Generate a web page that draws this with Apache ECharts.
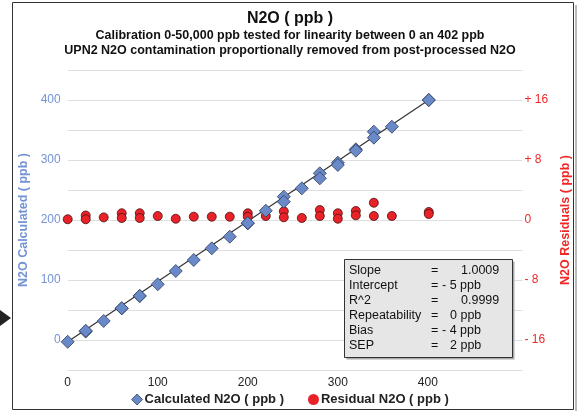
<!DOCTYPE html>
<html>
<head>
<meta charset="utf-8">
<script src="https://cdn.jsdelivr.net/npm/echarts@6/dist/echarts.min.js"></script>
<style>html,body{margin:0;padding:0;background:#fff;}#c{width:580px;height:413px;}</style>
</head>
<body>
<div id="c"></div>
<script>
// Reference concentration (ppb)
const refX = [0, 20, 20, 40, 60, 60, 80, 80, 100, 120, 140, 160, 180, 200, 200, 220, 240, 240, 260, 280, 280, 300, 300, 320, 320, 340, 340, 360, 401, 401];
// Calculated N2O (ppb)
const calcY = [-3, 14, 15.5, 31.7, 52.8, 53, 73.3, 73.5, 92.8, 115, 133.3, 152.8, 172.2, 194.4, 195, 215.5, 238.9, 230.5, 252.8, 277.8, 269.5, 295.5, 291.7, 317.8, 315.5, 347.2, 337.2, 355.5, 400, 400];
// Residual N2O (ppb)
const residY = [0.1, 0.6, 0.1, 0.35, 0.9, 0.27, 0.9, 0.27, 0.53, 0.17, 0.44, 0.44, 0.44, 0.9, 0.44, 0.53, 1.16, 0.36, 0.27, 1.33, 0.53, 0.9, 0.17, 1.2, 0.62, 2.3, 0.53, 0.53, 1.07, 0.8];
// Fit line end points
const fitX = [0, 401];
const fitY = [-3, 400];
// Stats box rows
const statLabels = ['Slope', 'Intercept', 'R^2', 'Repeatability', 'Bias', 'SEP'];
const statValues = ['1.0009', '- 5 ppb', '0.9999', '0 ppb', '- 4 ppb', '2 ppb'];

const FONT = 'Liberation Sans, Arial, sans-serif';
const BLUE = '#7393d3';
const RED = '#f02828';

const chart = echarts.init(document.getElementById('c'), null, {renderer: 'canvas'});

const valueLeft = [461, 442, 461, 450, 442, 450];
const statTexts = [];
statLabels.forEach((s, i) => {
  const top = 264.5 + i * 15;
  statTexts.push({type: 'text', left: 349, top: top, style: {text: s, font: '12.5px ' + FONT, fill: '#111'}, z: 102});
  statTexts.push({type: 'text', left: 431, top: top, style: {text: '=', font: '12.5px ' + FONT, fill: '#111'}, z: 102});
  statTexts.push({type: 'text', left: valueLeft[i], top: top, style: {text: statValues[i], font: '12.5px ' + FONT, fill: '#111'}, z: 102});
});

chart.setOption({
  animation: false,
  backgroundColor: '#fff',
  grid: {left: 67.7, top: 70, width: 457.4, height: 300, containLabel: false},
  xAxis: {
    type: 'value', min: 0, max: 505, interval: 100,
    axisLine: {show: false}, axisTick: {show: false},
    splitLine: {show: false},
    axisLabel: {color: '#222', fontFamily: FONT, fontSize: 12, margin: 7,
      formatter: v => (v <= 400 ? String(v) : '')}
  },
  yAxis: [{
    type: 'value', min: -50, max: 450, interval: 50,
    name: 'N2O Calculated ( ppb )', nameLocation: 'middle', nameGap: 35,
    nameTextStyle: {color: BLUE, fontFamily: FONT, fontSize: 12.5, fontWeight: 'bold'},
    axisLine: {show: false}, axisTick: {show: false},
    splitLine: {show: true, lineStyle: {color: '#dedede', width: 1}},
    axisLabel: {color: BLUE, fontFamily: FONT, fontSize: 12, margin: 7,
      formatter: v => (v >= 0 && v <= 400 && v % 100 === 0 ? String(v) : '')}
  }, {
    type: 'value', min: -20, max: 20, interval: 4, position: 'right',
    name: 'N2O Residuals ( ppb )', nameLocation: 'middle', nameGap: 36, nameRotate: 90,
    nameTextStyle: {color: RED, fontFamily: FONT, fontSize: 12.5, fontWeight: 'bold'},
    axisLine: {show: false}, axisTick: {show: false}, splitLine: {show: false},
    axisLabel: {color: RED, fontFamily: FONT, fontSize: 12, margin: 2,
      formatter: v => {
        if (v % 8 !== 0 || Math.abs(v) > 16) return '';
        if (v > 0) return '+ ' + v;
        if (v < 0) return '- ' + (-v);
        return '0';
      }}
  }],
  legend: {
    bottom: 2, left: 'center', itemGap: 24, itemWidth: 11, itemHeight: 11,
    textStyle: {color: '#222', fontFamily: FONT, fontSize: 13, fontWeight: 'bold', padding: [0, 0, 0, -3]},
    data: [
      {name: 'Calculated N2O ( ppb )', icon: 'diamond', itemStyle: {borderWidth: 0.8}},
      {name: 'Residual N2O ( ppb )', icon: 'circle', itemStyle: {borderWidth: 0}}
    ]
  },
  graphic: [
    {type: 'rect', shape: {x: 12.5, y: 2.5, width: 561, height: 407}, style: {fill: 'none', stroke: '#333', lineWidth: 1}, z: 1},
    {type: 'line', shape: {x1: 576, y1: 5, x2: 576, y2: 411}, style: {stroke: '#bbb', lineWidth: 2}, z: 1},
    {type: 'polygon', shape: {points: [[0, 310], [11, 318], [0, 326]]}, style: {fill: '#222'}, z: 1},
    {type: 'text', left: 'center', top: 11, style: {text: 'N2O ( ppb )', font: 'bold 16px ' + FONT, fill: '#111'}, z: 5},
    {type: 'text', left: 'center', top: 29.5, style: {text: 'Calibration 0-50,000 ppb tested for linearity between 0 an 402 ppb', font: 'bold 12.5px ' + FONT, fill: '#111'}, z: 5},
    {type: 'text', left: 'center', top: 44.5, style: {text: 'UPN2 N2O contamination proportionally removed from post-processed N2O', font: 'bold 12.5px ' + FONT, fill: '#111'}, z: 5},
    {type: 'rect', shape: {x: 346.5, y: 261.5, width: 168, height: 98}, style: {fill: '#aaa'}, z: 100},
    {type: 'rect', shape: {x: 344.5, y: 259.5, width: 168, height: 98}, style: {fill: '#e6e6e6', stroke: '#333', lineWidth: 1}, z: 101}
  ].concat(statTexts),
  series: [{
    name: 'Fit', type: 'line', data: fitX.map((x, i) => [x, fitY[i]]),
    showSymbol: false, lineStyle: {color: '#333', width: 1.2}, z: 2, silent: true
  }, {
    name: 'Residual N2O ( ppb )', type: 'scatter', yAxisIndex: 1,
    data: refX.map((x, i) => [x, residY[i]]),
    symbol: 'circle', symbolSize: 9,
    itemStyle: {color: '#e82228', borderColor: '#4a1010', borderWidth: 0.8, opacity: 1}, z: 3
  }, {
    name: 'Calculated N2O ( ppb )', type: 'scatter',
    data: refX.map((x, i) => [x, calcY[i]]),
    symbol: 'diamond', symbolSize: 13,
    itemStyle: {color: '#6a89c8', borderColor: '#2f3d5c', borderWidth: 0.8, opacity: 1}, z: 4
  }]
});
</script>
</body>
</html>
